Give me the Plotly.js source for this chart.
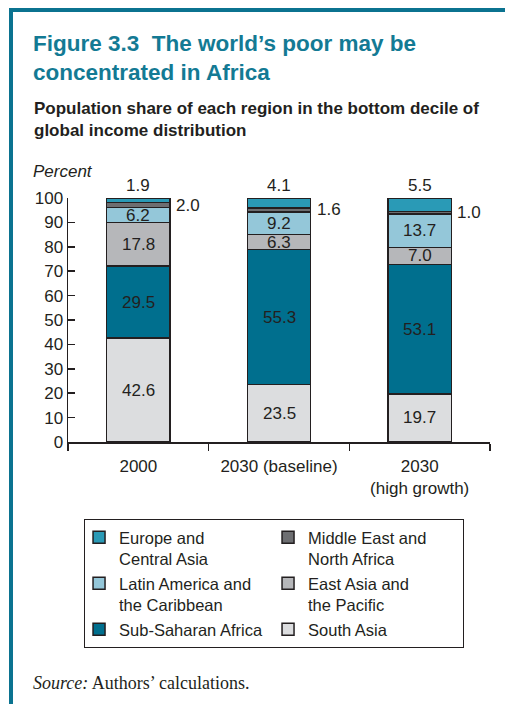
<!DOCTYPE html>
<html>
<head>
<meta charset="utf-8">
<script src="https://cdn.plot.ly/plotly-3.0.1.min.js"></script>
<style>
  html, body { margin: 0; padding: 0; background: #fff; }
  #wrap { position: relative; width: 505px; height: 704px; }
  #chart { width: 505px; height: 704px; }
  #frame { position: absolute; left: 9px; top: 8px; right: 0; bottom: 0;
           border-left: 4px solid #0b7390; border-top: 4px solid #0b7390; pointer-events: none; }
</style>
</head>
<body>
<div id="wrap">
  <div id="chart"></div>
  <div id="frame"></div>
</div>
<script>
// ---- data ----
const categories = ["2000", "2030 (baseline)", "2030<br>(high growth)"];
const southAsia       = [42.6, 23.5, 19.7];
const subSaharan      = [29.5, 55.3, 53.1];
const eastAsiaPacific = [17.8, 6.3, 7.0];
const latinAmerica    = [6.2, 9.2, 13.7];
const middleEast      = [2.0, 1.6, 1.0];
const europeCentral   = [1.9, 4.1, 5.5];
const yTicks = [0, 10, 20, 30, 40, 50, 60, 70, 80, 90, 100];

// series stacked bottom -> top
const series = [
  { name: "South Asia", values: southAsia, color: "#dcdddf", label: "inside" },
  { name: "Sub-Saharan Africa", values: subSaharan, color: "#006f8e", label: "inside" },
  { name: "East Asia and<br>the Pacific", values: eastAsiaPacific, color: "#b6b7ba", label: "inside" },
  { name: "Latin America and<br>the Caribbean", values: latinAmerica, color: "#94c7d9", label: "inside" },
  { name: "Middle East and<br>North Africa", values: middleEast, color: "#6d6e71", label: "right" },
  { name: "Europe and<br>Central Asia", values: europeCentral, color: "#2a9ab6", label: "top" }
];
const legendOrder = ["Europe and<br>Central Asia", "Middle East and<br>North Africa",
  "Latin America and<br>the Caribbean", "East Asia and<br>the Pacific",
  "Sub-Saharan Africa", "South Asia"];

const ink = "#231f20";
const FONT = "Liberation Sans, Arial, Helvetica, sans-serif";
const BARW = 0.45;
const LABEL_SIZE = 17;

const traces = series.map(s => ({
  type: "bar",
  x: categories,
  y: s.values,
  name: s.name,
  width: BARW,
  marker: { color: s.color, line: { color: ink, width: 1.5 } },
  legendrank: legendOrder.indexOf(s.name) + 1,
  hoverinfo: "skip"
}));

// value labels computed from the stacked data
const annotations = [];
const cum = categories.map(() => 0);
series.forEach(s => {
  s.values.forEach((v, i) => {
    const base = cum[i];
    const txt = v.toFixed(1);
    const f = { family: FONT, size: LABEL_SIZE, color: ink };
    if (s.label === "inside") {
      annotations.push({ x: i, y: base + v / 2, xref: "x", yref: "y", text: txt,
        showarrow: false, font: f });
    } else if (s.label === "right") {
      annotations.push({ x: i + BARW / 2, y: base + v / 2, xref: "x", yref: "y", text: txt,
        xanchor: "left", xshift: 4, showarrow: false, font: f });
    } else {
      annotations.push({ x: i, y: base + v, xref: "x", yref: "y", text: txt,
        yanchor: "bottom", yshift: 1, showarrow: false, font: f });
    }
    cum[i] = base + v;
  });
});

annotations.push({
  xref: "paper", yref: "paper", x: -0.085, y: 1.32, xanchor: "left", yanchor: "middle", align: "left",
  text: "<b>Population share of each region in the bottom decile of<br>global income distribution</b>",
  showarrow: false, font: { family: FONT, size: 17, color: ink }
});
annotations.push({
  xref: "paper", yref: "paper", x: -0.088, y: 1.107, xanchor: "left", yanchor: "middle",
  text: "<i>Percent</i>", showarrow: false, font: { family: FONT, size: 17, color: ink }
});
annotations.push({
  xref: "paper", yref: "paper", x: -0.087, y: -0.988, xanchor: "left", yanchor: "middle",
  text: "<i>Source:</i> Authors’ calculations.", showarrow: false,
  font: { family: "Liberation Serif, Times New Roman, serif", size: 18, color: ink }
});

const layout = {
  width: 505, height: 704,
  margin: { l: 68, r: 15, t: 198, b: 262, pad: 0 },
  paper_bgcolor: "#ffffff", plot_bgcolor: "#ffffff",
  barmode: "stack",
  showlegend: true,
  font: { family: FONT, size: 17, color: ink },
  title: {
    text: "<b>Figure 3.3  The world’s poor may be<br>concentrated in Africa</b>",
    x: 33 / 505, xref: "container", xanchor: "left",
    y: 1 - 50.5 / 704, yref: "container", yanchor: "middle",
    font: { family: FONT, size: 22.5, color: "#137a94" }
  },
  xaxis: {
    type: "category",
    tickson: "boundaries",
    ticks: "outside", ticklen: 7, tickwidth: 1.5, tickcolor: ink,
    ticklabelstandoff: 8,
    showline: true, linecolor: ink, linewidth: 1.5,
    showgrid: false, zeroline: false,
    tickfont: { family: FONT, size: 17, color: ink },
    fixedrange: true
  },
  yaxis: {
    range: [0, 100],
    tickvals: yTicks,
    ticks: "inside", ticklen: 7, tickwidth: 1.5, tickcolor: ink,
    showline: true, linecolor: ink, linewidth: 1.5,
    showgrid: false, zeroline: false,
    tickfont: { family: FONT, size: 17, color: ink },
    fixedrange: true
  },
  legend: {
    orientation: "h",
    x: 0.038, xanchor: "left",
    y: -0.316, yanchor: "top",
    entrywidth: 150, entrywidthmode: "pixels",
    indentation: -6,
    bordercolor: ink, borderwidth: 1,
    valign: "top",
    traceorder: "normal",
    font: { family: FONT, size: 16.5, color: ink }
  },
  annotations: annotations
};

Plotly.newPlot("chart", traces, layout, { displayModeBar: false, staticPlot: true });
</script>
</body>
</html>
